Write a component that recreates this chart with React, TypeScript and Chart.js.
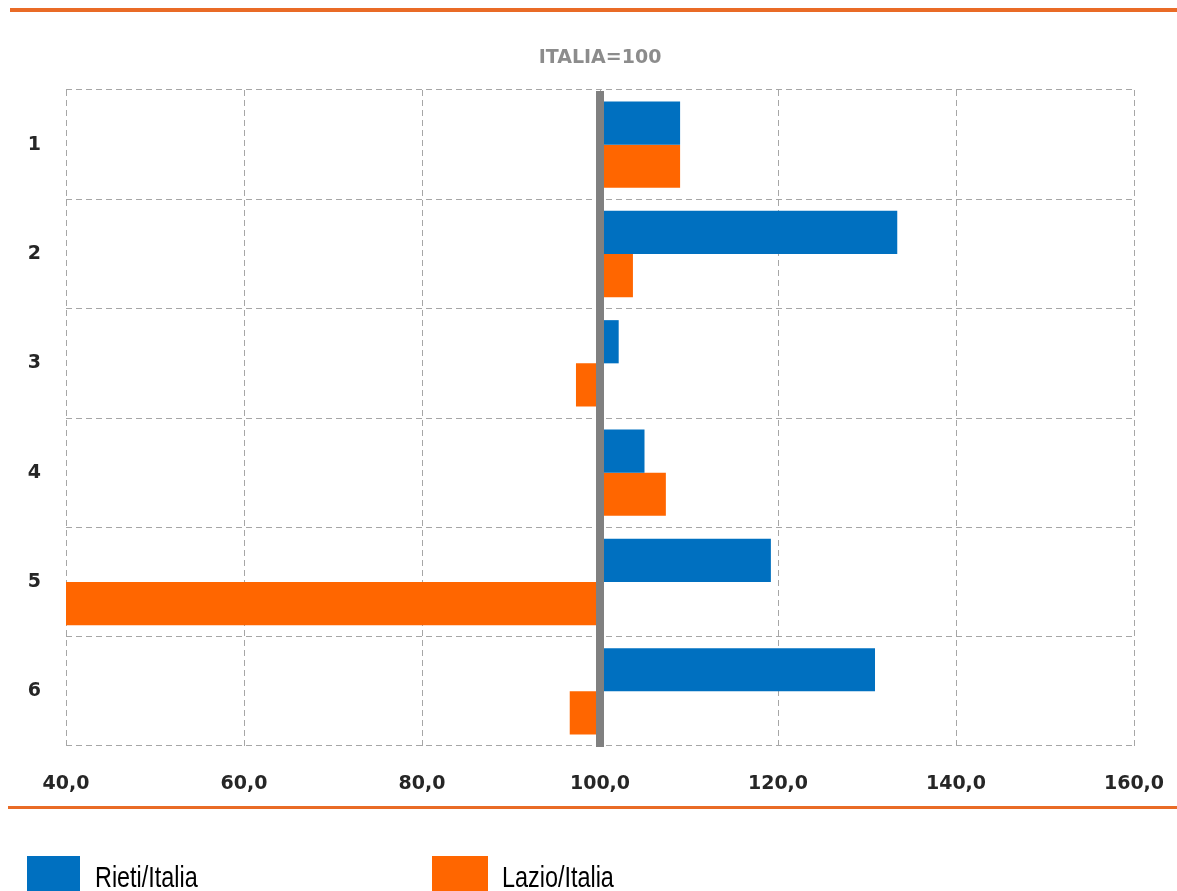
import React, { useEffect, useRef } from 'react';
import { Chart, registerables } from 'chart.js';

Chart.register(...registerables);

const categories = ['1', '2', '3', '4', '5', '6'];
const rietiValues = [109.0, 133.4, 102.1, 105.0, 119.2, 130.9];
const lazioValues = [109.0, 103.7, 97.3, 107.4, 40.0, 96.6];
const seriesNames = ['Rieti/Italia', 'Lazio/Italia'];
const seriesColors = ['#0070C0', '#FF6600'];
const xTicks = [40, 60, 80, 100, 120, 140, 160];
const chartTitle = 'ITALIA=100';
const baseValue = 100;

const decorPlugin = {
  id: 'decor',
  afterDatasetsDraw(chart: any) {
    const { ctx, chartArea, scales } = chart;
    const x = scales.x.getPixelForValue(baseValue);
    ctx.save();
    ctx.fillStyle = '#808080';
    ctx.fillRect(x - 4, chartArea.top + 1, 8, chartArea.bottom - chartArea.top);
    ctx.restore();
  },
  afterDraw(chart: any) {
    const { ctx, chartArea } = chart;
    ctx.save();
    // orange rules
    ctx.fillStyle = '#E96B26';
    ctx.fillRect(10, 8, 1167, 4);
    ctx.fillRect(8, 806, 1169, 3);
    // title
    ctx.fillStyle = '#8C8C8C';
    ctx.font = 'bold 19px "DejaVu Sans"';
    ctx.textAlign = 'center';
    ctx.textBaseline = 'middle';
    ctx.fillText(chartTitle, (chartArea.left + chartArea.right) / 2, 58);
    // legend
    const items = [
      { x: 27, w: 53, tx: 95 },
      { x: 432, w: 56, tx: 502 },
    ];
    chart.data.datasets.forEach((ds: any, i: number) => {
      const it = items[i];
      ctx.fillStyle = ds.backgroundColor;
      ctx.fillRect(it.x, 856, it.w, 40);
      ctx.save();
      ctx.translate(it.tx, 887);
      ctx.scale(0.78, 1);
      ctx.fillStyle = '#000000';
      ctx.font = '30px "Liberation Sans"';
      ctx.textAlign = 'left';
      ctx.textBaseline = 'alphabetic';
      ctx.fillText(ds.label, 0, 0);
      ctx.restore();
    });
    ctx.restore();
  },
};

export default function App() {
  const ref = useRef<HTMLCanvasElement>(null);
  useEffect(() => {
    if (!ref.current) return;
    const chart = new Chart(ref.current, {
      type: 'bar',
      data: {
        labels: categories,
        datasets: [
          {
            label: seriesNames[0],
            data: rietiValues,
            backgroundColor: seriesColors[0],
            base: baseValue,
            categoryPercentage: 0.79,
            barPercentage: 1.0,
          } as any,
          {
            label: seriesNames[1],
            data: lazioValues,
            backgroundColor: seriesColors[1],
            base: baseValue,
            categoryPercentage: 0.79,
            barPercentage: 1.0,
          } as any,
        ],
      },
      options: {
        indexAxis: 'y',
        responsive: false,
        animation: false,
        layout: { autoPadding: false, padding: { top: 90, left: 0, right: 43, bottom: 85 } },
        plugins: {
          legend: { display: false },
          title: { display: false },
          tooltip: { enabled: false },
        },
        scales: {
          x: {
            type: 'linear',
            min: 40,
            max: 160,
            afterFit: (s: any) => { s.height = 60; s.paddingLeft = 0; s.paddingRight = 0; },
            afterBuildTicks: (s: any) => { s.ticks = xTicks.map((v) => ({ value: v })); },
            ticks: {
              padding: 27,
              color: '#262626',
              font: { family: '"DejaVu Sans"', size: 19, weight: 'bold' },
              callback: (v: any) => Number(v).toFixed(1).replace('.', ','),
              maxRotation: 0,
            },
            grid: { color: '#A6A6A6', lineWidth: 1, drawTicks: false },
            border: { display: false, dash: [6, 4] },
          },
          y: {
            type: 'category',
            afterFit: (s: any) => { s.width = 66; },
            ticks: {
              padding: 25,
              color: '#262626',
              font: { family: '"DejaVu Sans"', size: 19, weight: 'bold' },
            },
            grid: { color: '#A6A6A6', lineWidth: 1, drawTicks: false, offset: true },
            border: { display: false, dash: [6, 4] },
          },
        },
      },
      plugins: [decorPlugin],
    } as any);
    return () => chart.destroy();
  }, []);
  return (
    <div style={{ position: 'absolute', left: 0, top: 0, width: 1177, height: 891, background: '#fff' }}>
      <canvas ref={ref} width={1177} height={891} style={{ display: 'block' }} />
    </div>
  );
}
